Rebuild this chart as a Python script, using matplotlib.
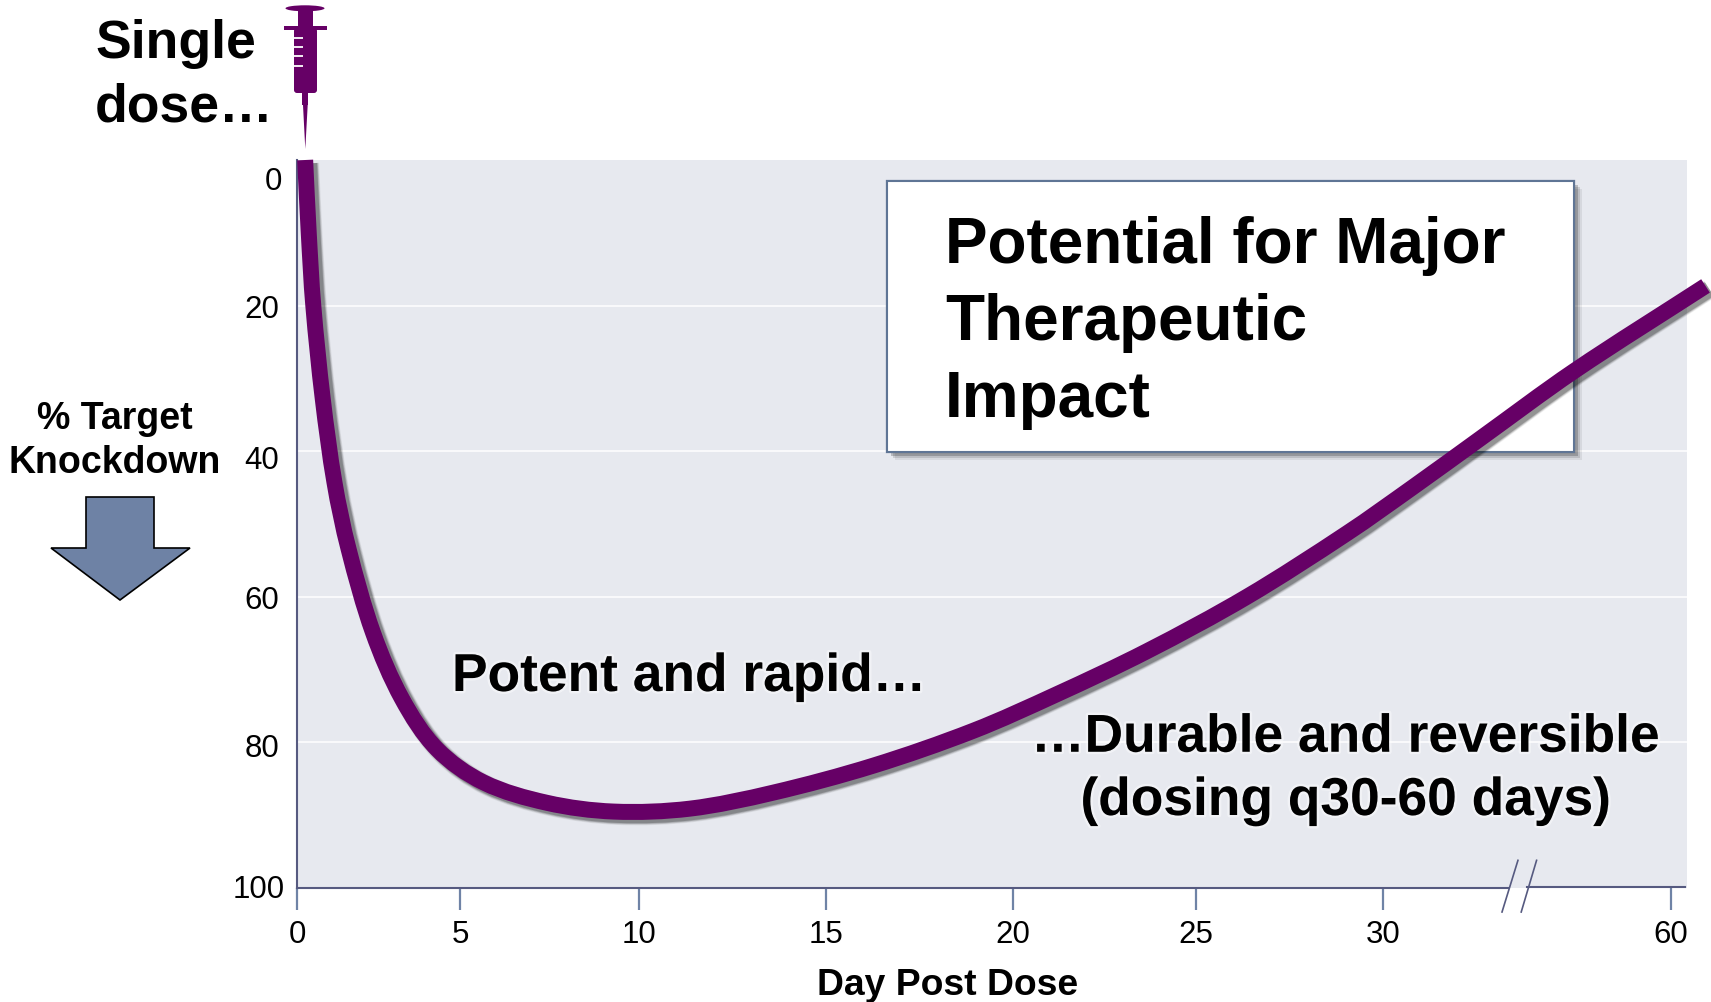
import numpy as np
import matplotlib
matplotlib.use('Agg')
import matplotlib.pyplot as plt
import matplotlib.patheffects as pe
from matplotlib.patches import Polygon, Rectangle, Ellipse, FancyBboxPatch, PathPatch
from matplotlib.path import Path
from matplotlib.transforms import Affine2D, ScaledTranslation

plt.rcParams['font.family'] = ['Liberation Sans', 'DejaVu Sans']

# values
days = [0.25, 0.36, 0.5, 0.79, 1.15, 1.58, 2.33, 3.22, 4.29, 5.66, 7.43, 9.29, 11.36, 13.59,
        16.26, 18.94, 21.19, 23.65, 26.36, 29.03, 33.16, 40.1, 49.9, 63.6]
knockdown = [0, 10, 20, 32.8, 44.3, 53.4, 64.9, 74, 80.9, 85.5, 88.3, 89.5, 89.1, 86.9,
             83.2, 78.4, 73.4, 67.5, 60, 51.3, 44.9, 38.3, 29, 17.3]
x_ticks = [0, 5, 10, 15, 20, 25, 30, 60]
y_ticks = [0, 20, 40, 60, 80, 100]
y_grid = [20, 40, 60, 80]

PURPLE = '#660066'
GREY = '#e7e9ef'
AXIS = '#565a80'
TICK = '#6f83a6'
BOLD = dict(fontweight='bold', color='black')

W, H = 1711, 1003
fig = plt.figure(figsize=(W / 100, H / 100), dpi=100, facecolor='white')
ax = fig.add_axes([297 / W, 1 - 889 / H, (1687 - 297) / W, (889 - 161) / H], facecolor=GREY)

# pixel coordinates of the picture, y going down, for the decorations
px = Affine2D().scale(1, -1).translate(0, H)

# hand drawn x axis: uneven spacing and a break between 30 and 60
scale_days = [0, 5, 10, 15, 20, 25, 30, 60, 70]
scale_units = [0, 163, 342, 529, 716, 899, 1086, 1374, 1470]


def forward(v):
    return np.interp(v, scale_days, scale_units)


def inverse(v):
    return np.interp(v, scale_units, scale_days)


ax.set_xscale('function', functions=(forward, inverse))
ax.set_xlim(0, 61.67)
ax.set_ylim(100, 0)

ax.set_xticks(x_ticks)
ax.set_xticklabels([str(t) for t in x_ticks], fontsize=22.5)
ax.minorticks_off()
ax.tick_params(axis='x', length=16, width=1.6, color=TICK, pad=6, labelcolor='black')
ax.set_yticks(y_ticks)
ax.set_yticklabels([str(t) for t in y_ticks], fontsize=22.5)
ax.tick_params(axis='y', length=0, pad=13, labelcolor='black')

# the tick labels do not quite sit on their gridlines in the original
label_shift = [(3, -17), (0, 0), (0, -5), (0, 0), (0, -2), (6, 2)]
for lab, (dx, dy) in zip(ax.get_yticklabels(), label_shift):
    lab.set_transform(lab.get_transform() + ScaledTranslation(dx / 100, dy / 100, fig.dpi_scale_trans))

for g in y_grid:
    ax.axhline(g, color='white', lw=1.1, zorder=1)

for s in ['top', 'right', 'bottom']:
    ax.spines[s].set_visible(False)
ax.spines['left'].set_color(AXIS)
ax.spines['left'].set_linewidth(1.5)

# x axis with the break
ax.plot([0, 43], [100, 100], color=AXIS, lw=1.5, clip_on=False, zorder=2)
ax.plot([45, 61.5], [99.9, 99.9], color=AXIS, lw=1.5, clip_on=False, zorder=2)
ax.plot([42.4, 44.06], [103.3, 96.2], color=AXIS, lw=1.2, clip_on=False, zorder=2)
ax.plot([44.4, 46.0], [103.3, 96.2], color=AXIS, lw=1.2, clip_on=False, zorder=2)

ax.set_xlabel('Day Post Dose', fontsize=26.8, labelpad=13.5, x=0.468, **BOLD)

# white box
box = Rectangle((887, 182), 687, 271, transform=px, facecolor='white', edgecolor='#5f7595',
                lw=1.5, zorder=3)
box.set_path_effects([pe.withSimplePatchShadow(offset=(6, -6), shadow_rgbFace='black', alpha=0.07),
                      pe.withSimplePatchShadow(offset=(4.5, -4.5), shadow_rgbFace='black', alpha=0.12),
                      pe.withSimplePatchShadow(offset=(3, -3), shadow_rgbFace='black', alpha=0.2)])
ax.add_patch(box)
ax.text(945, 417, 'Potential for Major\nTherapeutic\nImpact', transform=px, fontsize=46,
        ha='left', va='baseline', linespacing=1.36, zorder=4, **BOLD)


# smooth path through the read points (the original is a drawn curve, not a polyline)
def smooth_path(xs, ys):
    pts = np.column_stack([forward(xs), np.array(ys) * 7.28])
    tang = np.gradient(pts, axis=0)
    tang = tang / np.linalg.norm(tang, axis=1, keepdims=True)
    seg = np.linalg.norm(np.diff(pts, axis=0), axis=1)
    verts = [pts[0]]
    codes = [Path.MOVETO]
    for i in range(len(seg)):
        verts += [pts[i] + tang[i] * seg[i] / 3, pts[i + 1] - tang[i + 1] * seg[i] / 3, pts[i + 1]]
        codes += [Path.CURVE4] * 3
    verts = np.array(verts)
    return Path(np.column_stack([inverse(verts[:, 0]), verts[:, 1] / 7.28]), codes)


# the curve, soft shadow first
lw = 11.5
shadow = [pe.Stroke(linewidth=lw + w, foreground='black', alpha=a, offset=(2.8, -2.4))
          for w, a in [(3, 0.06), (2, 0.1), (1, 0.14), (0, 0.2)]]
curve = PathPatch(smooth_path(days, knockdown), transform=ax.transData, facecolor='none',
                  edgecolor=PURPLE, lw=lw, capstyle='butt', joinstyle='round',
                  clip_on=False, zorder=5, path_effects=shadow + [pe.Normal()])
ax.add_patch(curve)

# annotations with a faint glow
glow = [pe.withStroke(linewidth=3.5, foreground='white', alpha=0.45)]
ax.text(452, 692, 'Potent and rapid…', transform=px, fontsize=38.4, ha='left', va='baseline',
        zorder=6, path_effects=glow, **BOLD)
ax.text(1346, 816, '…Durable and reversible\n(dosing q30-60 days)', transform=px, fontsize=38.4,
        ha='center', va='baseline', multialignment='center', linespacing=1.34, zorder=6,
        path_effects=glow, **BOLD)

ax.text(95, 122, 'Single\ndose…', transform=px, fontsize=38.5, ha='left', va='baseline',
        linespacing=1.36, clip_on=False, **BOLD)
ax.text(115, 473, '% Target\nKnockdown', transform=px, fontsize=27, ha='center', va='baseline',
        multialignment='center', linespacing=1.3, clip_on=False, **BOLD)

# down arrow
fig.add_artist(Polygon([(86, 498), (154, 498), (154, 549), (190, 549), (120, 601), (51, 549), (86, 549)],
                       closed=True, transform=px, facecolor='#6e82a5', edgecolor='black', lw=1.2))

# syringe
fig.add_artist(Ellipse((305, 9.3), 39, 6, transform=px, color=PURPLE, lw=0))
fig.add_artist(Rectangle((298, 10), 15, 18, transform=px, color=PURPLE, lw=0))
fig.add_artist(Rectangle((284, 26.7), 43, 4, transform=px, color=PURPLE, lw=0))
fig.add_artist(FancyBboxPatch((296, 31), 19, 61, boxstyle='round,pad=2,rounding_size=3',
                              transform=px, color=PURPLE, lw=0))
fig.add_artist(Rectangle((302, 94), 6, 12, transform=px, color=PURPLE, lw=0))
fig.add_artist(Polygon([(303, 106), (307.7, 106), (305.3, 150)], closed=True, transform=px,
                       color=PURPLE, lw=0))
for y in [39, 48, 57, 67]:
    fig.add_artist(Rectangle((294, y - 0.8), 9, 1.6, transform=px, color='#efe6ef', lw=0))

fig.savefig('out.png', dpi=100)
